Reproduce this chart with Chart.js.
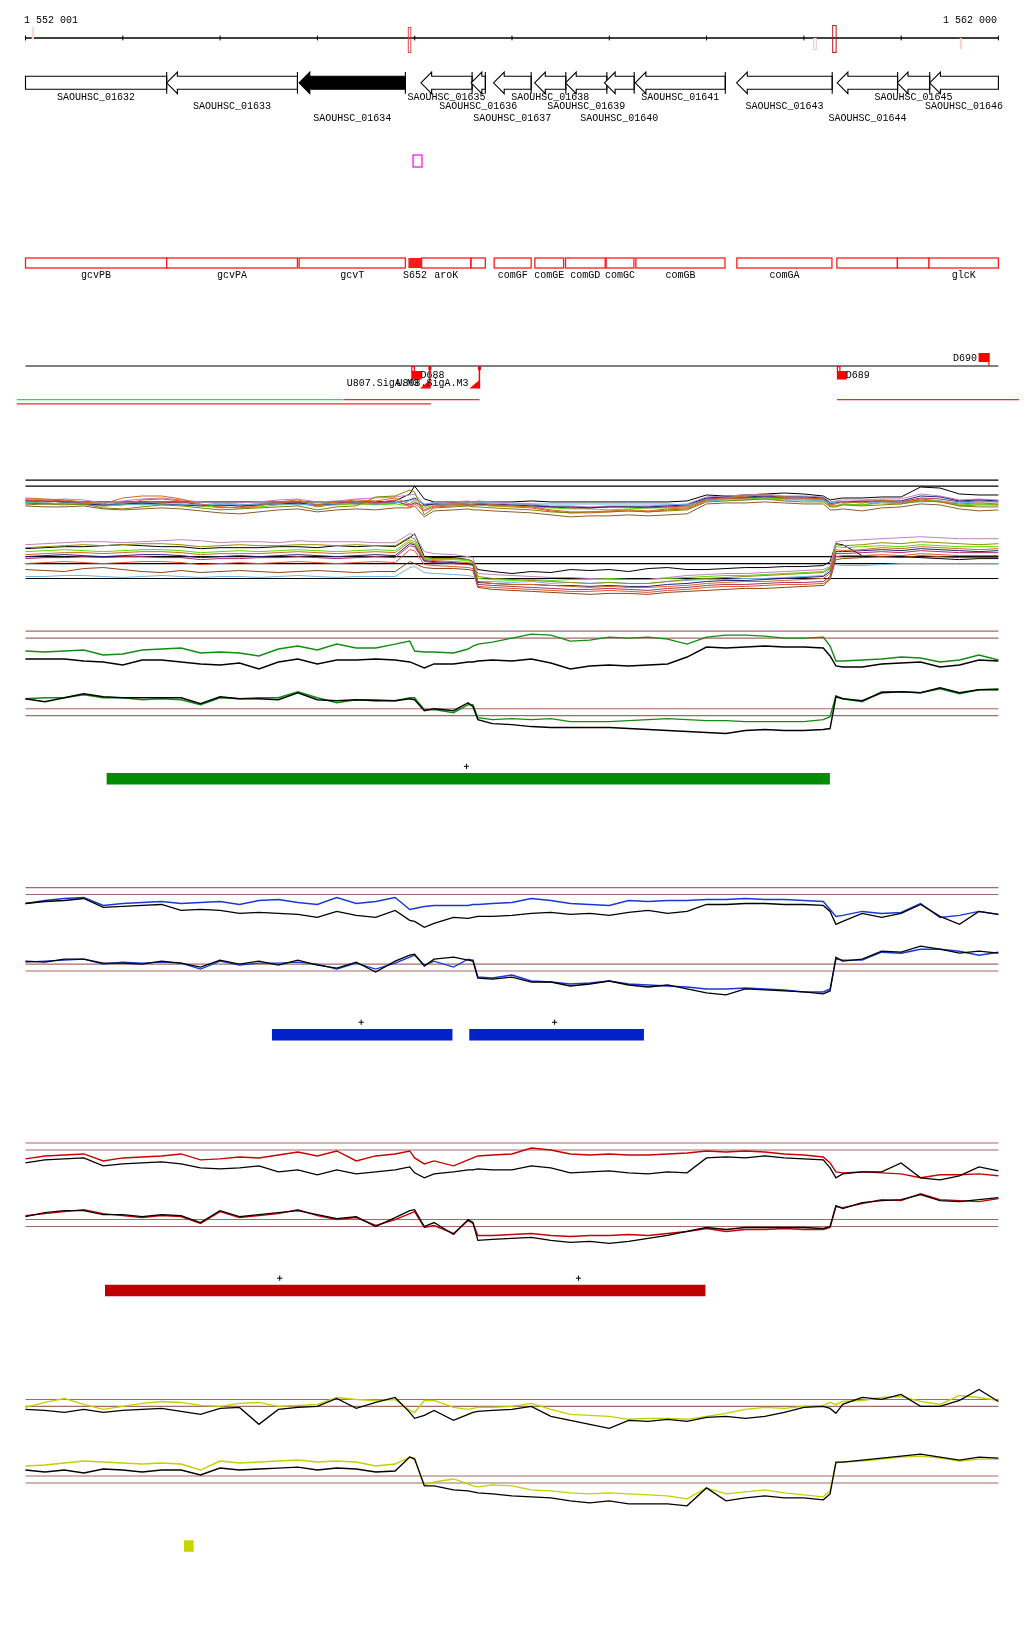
<!DOCTYPE html>
<html><head><meta charset="utf-8">
<script src="https://cdn.jsdelivr.net/npm/chart.js@4.4.1/dist/chart.umd.min.js"></script>
<style>
html,body{margin:0;padding:0;background:#fff;}
#c{display:block;}
</style></head>
<body><canvas id="c" width="1024" height="1640"></canvas>
<script>
// ---------------- DATA ----------------
const viewStart = 1552001, viewEnd = 1562000;
const rulerTicks = [1552001,1553001,1554001,1555001,1556001,1557001,1558001,1559001,1560001,1561001,1562000];
const rulerText = ['1 552 001','1 562 000'];
const markStart = [1552065,1555930,1560096,1560292,1561603];
const markEnd   = [1552088,1555956,1560123,1560327,1561623];
const markKind  = ['a','b','c','d','e'];

const geneNames  = ['SAOUHSC_01632','SAOUHSC_01633','SAOUHSC_01634','SAOUHSC_01635','SAOUHSC_01636','SAOUHSC_01637','SAOUHSC_01638','SAOUHSC_01639','SAOUHSC_01640','SAOUHSC_01641','SAOUHSC_01643','SAOUHSC_01644','SAOUHSC_01645','SAOUHSC_01646'];
const geneStart  = [1551600,1553452,1554813,1556065,1556581,1556811,1557233,1557551,1557951,1558267,1559309,1560343,1560961,1561294];
const geneEnd    = [1553452,1554796,1555905,1556591,1556727,1557198,1557554,1557976,1558257,1559193,1560292,1560964,1561294,1562300];
const geneStrand = ['-','-','-','-','-','-','-','-','-','-','-','-','-','-'];
const geneFocus  = ['SAOUHSC_01634'];

const magStart = [1555984], magEnd = [1556076];

const featNames = ['gcvPB','gcvPA','gcvT','S652','aroK','','comGF','comGE','comGD','comGC','comGB','comGA','','','glcK'];
const featStart = [1551600,1553452,1554813,1555936,1556072,1556581,1556818,1557236,1557551,1557969,1558274,1559312,1560340,1560962,1561287];
const featEnd   = [1553452,1554796,1555905,1556072,1556577,1556727,1557198,1557531,1557959,1558254,1559190,1560289,1560962,1561287,1562300];
const featKind  = ['box','box','box','site','box','box','box','box','box','box','box','box','box','box','box'];

const flagNames = ['D688','D689','D690'];
const flagStart = [1555966,1560340,1561796];
const flagEnd   = [1556072,1560442,1561908];
const flagSide  = ['below','below','above'];
const siteNames = ['U807.SigA.M3','U808.SigA.M3'];
const sitePos   = [1556157,1556666];
const readStart = [1551912,1555271,1551912,1560340];
const readEnd   = [1555271,1556666,1556167,1562213];
const readRow   = [0,0,1,0];
const readKind  = ['g','r','r','r'];

const positions = [1552000,1552200,1552400,1552600,1552800,1553000,1553200,1553400,1553600,1553800,1554000,1554200,1554400,1554600,1554800,1555000,1555200,1555400,1555600,1555800,1555950,1556000,1556100,1556200,1556400,1556550,1556600,1556650,1556800,1557000,1557200,1557400,1557600,1557800,1558000,1558200,1558400,1558600,1558800,1559000,1559200,1559400,1559600,1559800,1560000,1560200,1560270,1560330,1560400,1560600,1560800,1561000,1561200,1561400,1561600,1561800,1562000];

// multi-sample bundle, upper panel
const bT1 = [0.2,0.1,0,0,0,0,0,0,0,0,0,0,0,0,0,0,0,0,0,0.1,0.8,1.6,0.3,0,0,0,0,0,0,0,0.1,0,0,0,0,0,0,0,0.1,0.7,0.6,0.7,0.8,0.9,0.8,0.6,0.2,0.3,0.4,0.4,0.5,0.5,1.5,1.4,0.8,0.7,0.7];
const bT2 = [0.4,0.3,0.2,0,-0.2,0.4,0.6,0.6,0.3,-0.2,-0.5,-0.6,-0.4,0,0.2,-0.3,0,0.2,0.1,0.4,-0.2,0.2,-0.8,-0.4,-0.3,-0.2,-0.3,-0.1,-0.3,-0.4,-0.5,-0.8,-1.0,-1.0,-0.9,-0.8,-0.9,-0.7,-0.6,0.2,0.4,0.6,0.7,0.5,0.4,0.3,-0.3,-0.2,0,-0.1,0.2,0,0.2,0,-0.2,-0.1,-0.2];
const bT3 = [-0.3,-0.2,-0.3,-0.2,-0.6,-0.7,-0.5,-0.3,-0.4,-0.6,-0.8,-0.7,-0.6,-0.5,-0.4,-0.8,-0.5,-0.4,0.5,0.6,1.2,1.0,-1.3,-0.6,-0.5,-0.4,-0.5,-0.5,-0.6,-0.7,-0.8,-1.0,-1.1,-1.0,-1.0,-0.9,-1.0,-0.9,-0.8,0,0.1,0.2,0.3,0.1,0,0,-0.5,-0.5,-0.3,-0.4,-0.3,-0.2,0.1,0,-0.4,-0.5,-0.5];
const bT4 = [-0.1,-0.1,-0.2,-0.1,-0.2,-0.2,-0.3,-0.2,-0.2,-0.3,-0.2,-0.3,-0.2,-0.2,-0.3,-0.2,-0.2,-0.1,-0.2,-0.1,0.1,0.3,-0.2,-0.1,-0.2,-0.2,-0.2,-0.1,-0.1,-0.2,-0.2,-0.2,-0.2,-0.2,-0.2,-0.2,-0.2,-0.2,-0.3,0.1,0.2,0.2,0.3,0.2,0.2,0.1,-0.1,0,0,-0.1,0,0,0,0.1,-0.1,0,0];
const bT5 = [0.1,0,0.1,-0.1,-0.3,-0.1,-0.2,-0.1,0,-0.3,-0.4,-0.3,-0.2,-0.1,-0.2,-0.3,0,-0.2,-0.1,0,-0.3,-0.1,-0.4,-0.2,-0.1,-0.2,-0.3,-0.2,-0.2,-0.3,-0.3,-0.5,-0.6,-0.6,-0.5,-0.5,-0.6,-0.5,-0.4,0.3,0.4,0.4,0.5,0.4,0.4,0.3,-0.2,0,0,0.1,0.1,0,0.4,0.3,0,0.1,0];
const bT6 = [0,-0.1,-0.2,-0.3,-0.4,-0.3,-0.2,-0.3,-0.2,-0.4,-0.5,-0.6,-0.5,-0.3,-0.2,-0.4,-0.3,-0.2,-0.3,-0.2,-0.4,0,-0.6,-0.3,-0.3,-0.4,-0.3,-0.3,-0.4,-0.4,-0.5,-0.6,-0.7,-0.7,-0.8,-0.7,-0.6,-0.6,-0.5,0.2,0.3,0.3,0.4,0.3,0.2,0.2,-0.3,-0.4,-0.2,-0.3,-0.1,-0.2,0.2,0.1,-0.3,-0.2,-0.3];
const bT7 = [-0.4,-0.5,-0.5,-0.4,-0.7,-0.8,-0.7,-0.6,-0.7,-0.9,-1.1,-1.2,-1.0,-0.8,-0.7,-1.0,-0.8,-0.7,-0.8,-0.6,-0.6,-0.4,-1.5,-0.9,-0.8,-0.7,-0.8,-0.8,-0.9,-1.0,-1.1,-1.3,-1.5,-1.4,-1.4,-1.3,-1.4,-1.3,-1.2,-0.2,-0.1,-0.1,0,-0.1,-0.2,-0.2,-0.8,-0.8,-0.7,-0.9,-0.6,-0.5,-0.2,-0.3,-0.7,-0.9,-0.8];
const bT8 = [0.3,0.2,0.3,0.2,-0.1,0.1,0.3,0.4,0.2,0,-0.2,-0.1,0,0.2,0.3,0,0.1,0.3,0.4,0.5,0.7,0.8,-0.3,0,0,0.1,0,0.1,0,-0.1,-0.2,-0.4,-0.4,-0.5,-0.4,-0.4,-0.4,-0.3,-0.2,0.5,0.6,0.7,0.8,0.6,0.6,0.5,0,0.1,0.2,0.2,0.3,0.3,0.8,0.6,0.2,0.3,0.2];
const bT9 = [-0.1,-0.2,-0.1,-0.2,-0.3,-0.2,-0.1,-0.2,-0.3,-0.4,-0.3,-0.4,-0.3,-0.2,-0.1,-0.3,-0.2,-0.1,-0.2,-0.1,0.2,0.4,-0.3,-0.2,-0.2,-0.3,-0.2,-0.2,-0.3,-0.3,-0.4,-0.5,-0.5,-0.6,-0.5,-0.5,-0.5,-0.4,-0.3,0.4,0.5,0.5,0.6,0.5,0.5,0.4,-0.1,-0.1,0,0,0.1,0.1,0.6,0.5,0.1,0.2,0.1];
const bT10 = [0.1,0.2,0.1,0.0,-0.4,-0.3,0.2,0.3,0.1,-0.3,-0.6,-0.5,-0.3,-0.1,0.0,-0.5,-0.2,0.0,-0.1,0.2,-0.5,-0.2,-0.9,-0.5,-0.4,-0.3,-0.4,-0.3,-0.4,-0.5,-0.6,-0.9,-1.1,-1.1,-1.0,-0.9,-1.0,-0.8,-0.7,0.1,0.3,0.4,0.5,0.3,0.3,0.2,-0.4,-0.4,-0.2,-0.3,0.0,-0.1,0.3,0.1,-0.4,-0.3,-0.3];
// multi-sample bundle, lower panel
const bB1 = [1.7,1.8,1.9,2.0,2.0,1.9,2.0,2.1,2.2,2.1,1.9,2.0,2.0,1.9,2.1,2.0,2.0,2.0,1.9,1.9,2.8,2.7,1.0,0.8,0.7,0.5,0.4,-1.2,-1.3,-1.4,-1.5,-1.6,-1.6,-1.7,-1.8,-1.8,-1.8,-1.6,-1.4,-1.3,-1.2,-1.2,-1.1,-1.0,-0.9,-0.8,-0.5,2.0,2.1,2.2,2.3,2.4,2.5,2.4,2.3,2.3,2.3];
const bB2 = [1.3,1.4,1.5,1.5,1.6,1.7,1.6,1.5,1.5,1.3,1.4,1.4,1.4,1.5,1.5,1.4,1.6,1.5,1.6,1.5,2.4,2.8,0.5,0.4,0.4,0.2,0,-0.8,-1.0,-1.2,-1.0,-1.1,-0.8,-0.9,-0.8,-1.0,-0.7,-0.6,-0.8,-0.8,-0.7,-0.6,-0.6,-0.5,-0.5,-0.4,0,1.8,1.7,0.6,0.5,0.5,0.4,0.3,0.2,0.3,0.3];
const bB3 = [1.4,1.5,1.6,1.7,1.6,1.7,1.8,1.8,1.7,1.5,1.6,1.7,1.6,1.6,1.7,1.7,1.6,1.7,1.6,1.6,2.5,2.3,0.4,0.3,0.3,0.2,0,-1.5,-1.7,-1.8,-1.9,-2.0,-2.1,-2.2,-2.1,-2.2,-2.2,-2.0,-1.8,-1.7,-1.6,-1.5,-1.4,-1.3,-1.2,-1.1,-0.7,1.7,1.6,1.7,1.9,1.8,2.0,1.9,1.8,1.7,1.8];
const bB4 = [0.7,0.8,0.9,0.9,0.8,0.9,1.0,1.0,0.9,0.7,0.8,0.8,0.8,0.9,1.0,0.9,0.8,0.9,1.0,0.9,2.0,1.8,0.2,0.1,0,-0.1,-0.2,-2.0,-2.2,-2.3,-2.3,-2.4,-2.5,-2.6,-2.5,-2.6,-2.6,-2.5,-2.4,-2.2,-2.1,-2.0,-2.0,-1.9,-1.8,-1.7,-1.2,1.2,1.1,1.2,1.4,1.3,1.5,1.4,1.3,1.2,1.3];
const bB5 = [0.3,0.4,0.4,0.5,0.4,0.5,0.5,0.4,0.4,0.2,0.3,0.3,0.4,0.4,0.5,0.4,0.3,0.4,0.5,0.4,1.6,1.5,0,-0.1,-0.2,-0.3,-0.4,-2.3,-2.4,-2.5,-2.6,-2.7,-2.8,-2.8,-2.7,-2.8,-2.9,-2.7,-2.6,-2.4,-2.3,-2.3,-2.2,-2.1,-2.1,-2.0,-1.5,0.8,0.8,0.9,1.0,0.9,1.1,1.0,0.9,0.9,0.9];
const bB6 = [1.0,1.1,1.2,1.1,1.0,1.1,1.2,1.2,1.1,0.9,1.0,1.1,1.0,1.1,1.2,1.1,1.0,1.1,1.2,1.1,2.2,2.0,0.3,0.2,0.2,0.1,-0.1,-1.7,-1.8,-1.9,-1.8,-1.9,-1.8,-1.8,-1.7,-1.8,-1.8,-1.7,-1.6,-1.5,-1.4,-1.4,-1.3,-1.2,-1.1,-1.0,-0.6,1.5,1.4,1.5,1.6,1.5,1.7,1.6,1.5,1.5,1.5];
const bB7 = [-1.5,-1.5,-1.4,-1.4,-1.5,-1.6,-1.5,-1.4,-1.5,-1.6,-1.5,-1.5,-1.6,-1.5,-1.4,-1.5,-1.6,-1.5,-1.5,-1.5,-0.6,-0.5,-1.1,-1.2,-1.3,-1.4,-1.5,-2.0,-2.0,-2.1,-2.0,-2.2,-2.1,-2.2,-2.1,-2.2,-2.2,-2.0,-1.9,-1.8,-1.8,-1.7,-1.7,-1.6,-1.5,-1.4,-0.8,-0.3,-0.4,-0.4,-0.3,-0.2,-0.2,-0.2,-0.2,-0.2,-0.2];
const bB8 = [-0.8,-0.9,-1.0,-0.7,-0.6,-0.8,-1.0,-1.1,-0.9,-1.1,-1.0,-0.9,-1.0,-1.1,-1.0,-0.9,-1.0,-1.1,-1.0,-1.0,0,-0.2,-0.6,-0.7,-0.7,-0.8,-0.9,-2.6,-2.8,-2.9,-3.0,-3.1,-3.2,-3.3,-3.2,-3.2,-3.3,-3.1,-3.0,-2.9,-2.8,-2.7,-2.7,-2.6,-2.5,-2.4,-1.8,0.2,0.3,0.4,0.5,0.4,0.6,0.5,0.4,0.4,0.4];
const bB9 = [0.5,0.6,0.7,0.6,0.5,0.6,0.7,0.7,0.6,0.4,0.5,0.6,0.5,0.6,0.7,0.6,0.5,0.6,0.7,0.6,1.8,1.7,0.1,0.0,-0.1,-0.2,-0.3,-2.1,-2.2,-2.3,-2.3,-2.4,-2.4,-2.5,-2.4,-2.5,-2.5,-2.3,-2.2,-2.0,-1.9,-1.9,-1.8,-1.7,-1.6,-1.5,-1.0,1.0,1.0,1.1,1.2,1.1,1.3,1.2,1.1,1.0,1.1];
const bB10 = [-0.2,-0.1,0.0,-0.1,-0.2,-0.1,0.0,0.0,-0.1,-0.3,-0.2,-0.1,-0.2,-0.1,0.0,-0.1,-0.2,-0.1,0.0,-0.1,1.2,1.1,-0.3,-0.4,-0.5,-0.6,-0.7,-2.5,-2.6,-2.7,-2.8,-2.9,-3.0,-3.0,-2.9,-3.0,-3.1,-2.9,-2.8,-2.6,-2.5,-2.5,-2.4,-2.3,-2.3,-2.2,-1.7,0.5,0.6,0.6,0.7,0.6,0.8,0.7,0.6,0.6,0.6];
const thrBundleTop = [2.2,1.6];
const thrBundleBot = [0.5,-0.2,-1.7];

// green condition
const greenTopC = [1.0,0.9,1.0,1.1,0.6,0.7,1.1,1.2,1.3,0.8,0.9,0.8,0.5,1.2,1.5,1.1,1.7,1.3,1.3,1.7,2.0,1.0,0.9,0.9,0.8,1.2,1.5,1.7,1.9,2.3,2.7,2.6,2.0,2.1,2.4,2.3,2.4,2.2,1.7,2.4,2.6,2.6,2.5,2.3,2.3,2.4,1.5,0.0,0.0,0.1,0.2,0.4,0.3,-0.1,0.1,0.6,0.1];
const greenTopK = [0.2,0.2,0.2,0.0,-0.1,-0.4,0.1,0.1,-0.1,-0.3,-0.4,-0.2,-0.8,-0.1,0.2,-0.3,0.1,0.1,0.2,0.1,-0.1,-0.3,-0.7,-0.3,-0.3,-0.1,-0.1,0.0,0.1,0.0,0.2,-0.2,-0.8,-0.5,-0.4,-0.5,-0.4,-0.3,0.4,1.4,1.3,1.4,1.5,1.4,1.4,1.3,0.5,-0.5,-0.6,-0.6,-0.3,-0.2,-0.1,-0.6,-0.4,0.1,0.0];
const greenBotC = [0.2,0.3,0.3,0.6,0.3,0.3,0.1,0.2,0.1,-0.4,0.3,0.2,0.3,0.3,0.9,0.3,-0.2,0.1,0.1,0.0,0.3,0.3,-0.9,-0.9,-1.2,-0.4,-0.4,-1.7,-1.9,-1.8,-1.9,-1.8,-2.1,-2.1,-2.1,-2.0,-1.9,-1.8,-1.9,-2.0,-2.0,-2.1,-2.1,-2.1,-2.1,-1.9,-1.6,0.5,0.2,-0.1,0.9,0.9,0.8,1.2,0.7,1.1,1.2];
const greenBotK = [0.2,-0.1,0.3,0.7,0.4,0.3,0.3,0.3,0.3,-0.3,0.4,0.2,0.2,0.1,0.8,0.1,0.0,0.1,0.0,0.0,0.2,0.1,-1.0,-0.8,-1.0,-0.2,-0.6,-1.9,-2.3,-2.4,-2.6,-2.7,-2.7,-2.7,-2.7,-2.8,-2.9,-3.0,-3.1,-3.2,-3.3,-3.0,-2.9,-3.0,-3.0,-2.9,-2.8,0.4,0.2,0.0,0.8,0.9,0.8,1.3,0.8,1.1,1.1];
const thrGreenTop = [3.0,2.3], thrGreenBot = [-0.8,-1.5];
const greenSegStart = [1552835], greenSegEnd = [1560268], greenPlus = [1556533];

// blue condition
const blueTopC = [-0.4,-0.1,0.1,0.2,-0.6,-0.4,-0.3,-0.2,-0.4,-0.3,-0.2,-0.5,-0.1,0.0,-0.3,-0.5,0.2,-0.4,-0.2,0.2,-1.0,-0.9,-0.7,-0.6,-0.6,-0.6,-0.5,-0.5,-0.4,-0.3,0.1,-0.1,-0.4,-0.5,-0.6,-0.1,-0.2,-0.1,-0.1,0.0,0.0,0.1,0.0,0.0,-0.1,-0.2,-1.0,-1.7,-1.6,-1.2,-1.4,-1.3,-0.4,-1.8,-1.6,-1.2,-1.5];
const blueTopK = [-0.4,-0.2,-0.1,0.1,-0.8,-0.7,-0.6,-0.5,-1.1,-1.0,-1.1,-1.4,-1.3,-1.4,-1.5,-1.8,-1.2,-1.6,-1.8,-1.1,-2.1,-2.2,-2.8,-2.4,-1.8,-1.9,-1.8,-1.7,-1.7,-1.6,-1.4,-1.3,-1.5,-1.4,-1.6,-1.3,-1.1,-1.4,-1.2,-0.5,-0.5,-0.4,-0.4,-0.5,-0.5,-0.6,-1.2,-2.5,-2.2,-1.4,-1.8,-1.4,-0.5,-1.7,-2.5,-1.2,-1.5];
const blueBotC = [-0.3,-0.2,-0.1,0.0,-0.5,-0.3,-0.4,-0.3,-0.4,-1.0,-0.2,-0.6,-0.4,-0.4,-0.3,-0.5,-1.0,-0.4,-1.0,-0.4,0.2,0.4,-0.6,-0.2,-0.8,0.0,-0.1,-1.8,-1.9,-1.6,-2.2,-2.3,-2.5,-2.4,-2.2,-2.5,-2.6,-2.7,-2.8,-3.0,-3.0,-2.9,-3.0,-3.1,-3.3,-3.3,-3.0,0.0,-0.1,-0.1,0.7,0.6,1.0,1.0,0.8,0.4,0.7];
const blueBotK = [-0.2,-0.3,0.0,0.0,-0.4,-0.4,-0.5,-0.2,-0.4,-0.8,-0.1,-0.5,-0.2,-0.6,-0.1,-0.6,-0.9,-0.3,-1.3,-0.2,0.4,0.5,-0.7,0.0,0.2,-0.1,-0.2,-1.9,-2.0,-1.8,-2.3,-2.3,-2.7,-2.5,-2.2,-2.6,-2.8,-2.6,-3.0,-3.4,-3.6,-3.0,-3.1,-3.2,-3.3,-3.5,-3.2,0.2,-0.2,0.0,0.8,0.7,1.3,1.0,0.6,0.8,0.6];
const thrBlueTop = [1.2,0.5], thrBlueBot = [-0.5,-1.2];
const blueSegStart = [1554534,1556562], blueSegEnd = [1556389,1558357], bluePlus = [1555451,1557439];

// red condition
const redTopC = [-0.1,0.2,0.3,0.4,-0.3,0.0,0.1,0.2,0.4,-0.2,-0.1,0.1,0.0,0.3,0.6,0.2,0.7,-0.3,0.2,0.4,0.7,0.0,-0.6,-0.3,-0.8,-0.2,0.0,0.2,0.3,0.4,1.0,0.8,0.4,0.3,0.4,0.3,0.3,0.4,0.5,0.7,0.6,0.7,0.6,0.4,0.3,0.1,-0.5,-1.4,-1.5,-1.4,-1.5,-1.6,-2.0,-1.7,-1.7,-1.6,-1.8];
const redTopK = [-0.5,-0.2,-0.1,0.0,-0.8,-0.6,-0.5,-0.4,-0.6,-1.0,-1.1,-1.0,-0.8,-1.4,-1.2,-1.7,-1.2,-1.6,-1.4,-1.2,-0.9,-1.5,-2.0,-1.6,-1.4,-1.2,-1.2,-1.1,-1.2,-1.2,-0.8,-1.0,-1.5,-1.4,-1.3,-1.5,-1.6,-1.4,-1.5,0.0,0.1,0.0,0.2,0.0,-0.1,-0.2,-1.0,-2.0,-1.6,-1.4,-1.4,-0.5,-2.0,-2.2,-1.8,-0.9,-1.3];
const redBotC = [0.2,0.4,0.6,0.8,0.4,0.2,0.0,0.2,0.1,-0.6,0.6,0.0,0.2,0.4,0.8,0.2,-0.2,0.0,-0.8,-0.2,0.4,0.6,-1.0,-0.8,-1.6,-0.3,-0.6,-1.8,-1.8,-1.7,-1.6,-1.8,-1.9,-1.8,-1.8,-1.7,-1.8,-1.6,-1.4,-1.1,-1.4,-1.2,-1.2,-1.1,-1.2,-1.2,-1.0,1.1,1.0,1.4,1.8,1.7,2.4,1.8,1.7,1.6,1.9];
const redBotK = [0.1,0.5,0.7,0.7,0.3,0.3,0.1,0.3,0.2,-0.5,0.7,0.1,0.3,0.5,0.7,0.3,-0.1,0.1,-0.9,0.0,0.7,0.8,-0.9,-0.5,-1.7,-0.2,-0.5,-2.3,-2.2,-2.1,-2.0,-2.3,-2.5,-2.4,-2.6,-2.4,-2.1,-1.8,-1.4,-1.0,-1.2,-1.0,-1.0,-1.0,-1.0,-1.1,-0.9,1.2,0.9,1.5,1.7,1.8,2.3,1.7,1.6,1.8,2.0];
const thrRedTop = [1.5,0.8], thrRedBot = [-0.2,-0.9];
const redSegStart = [1552818,1556410], redSegEnd = [1556410,1558989], redPlus = [1554614,1557684];

// yellow condition
const yelTopC = [-0.1,0.4,0.8,0.2,-0.3,0.0,0.3,0.5,0.4,0.1,0.0,0.3,0.4,0.0,0.1,0.2,0.9,0.7,0.6,0.7,-0.4,-0.6,0.6,0.6,-0.1,-0.3,-0.2,-0.1,-0.1,0.0,0.3,-0.3,-0.8,-0.9,-1.0,-1.3,-1.2,-1.2,-1.3,-1.0,-0.7,-0.3,-0.1,-0.2,0.0,0.1,0.4,0.2,0.5,0.6,0.9,1.0,0.5,0.2,1.1,0.9,0.6];
const yelTopK = [-0.3,-0.4,-0.6,-0.3,-0.6,-0.4,-0.3,-0.2,-0.5,-0.8,-0.2,-0.1,-1.8,-0.3,-0.1,0.0,0.8,-0.2,0.4,0.9,-0.6,-1.2,-0.9,-0.4,-1.4,-0.8,-0.6,-0.5,-0.4,-0.3,0.0,-1.0,-1.4,-1.8,-2.2,-1.4,-1.5,-1.3,-1.5,-1.1,-1.0,-1.2,-1.0,-0.6,-0.1,0.0,-0.2,-0.7,0.2,0.9,0.7,1.2,0.0,0.0,0.6,1.7,0.5];
const yelBotC = [1.0,1.1,1.3,1.5,1.4,1.3,1.2,1.3,1.2,0.6,1.5,1.3,1.4,1.5,1.6,1.4,1.5,1.4,1.0,1.2,1.9,1.8,-0.9,-0.6,-0.3,-0.8,-1.0,-1.1,-0.9,-1.0,-1.4,-1.5,-1.7,-1.8,-1.7,-1.8,-1.9,-2.0,-2.3,-1.2,-1.8,-1.6,-1.4,-1.7,-1.9,-2.1,-1.5,1.3,1.4,1.5,1.7,1.9,2.0,1.8,1.5,1.7,1.7];
const yelBotK = [0.6,0.4,0.6,0.3,0.7,0.6,0.4,0.6,0.6,0.1,0.8,0.6,0.7,0.8,0.9,0.6,0.8,0.7,0.4,0.5,1.9,1.7,-1.0,-1.0,-1.4,-1.5,-1.6,-1.7,-1.8,-2.0,-2.1,-2.2,-2.5,-2.7,-2.5,-2.8,-2.8,-2.8,-3.0,-1.2,-2.5,-2.2,-2.0,-2.2,-2.2,-2.4,-1.8,1.4,1.4,1.6,1.8,2.0,2.2,1.9,1.6,1.9,1.8];
const thrYelTop = [0.7,0.0], thrYelBot = [0.0,-0.7];
const yelSegStart = [1553629], yelSegEnd = [1553729], yelPlus = [];

// ---------------- LAYOUT / STYLE ----------------
const W = 1024, H = 1640;
const PX_L = 20.7, PX_R = 1003.2;            // pixel span of the view
const bpPerPx = (viewEnd - viewStart) / (PX_R - PX_L);
const xMin = viewStart - PX_L * bpPerPx, xMax = xMin + W * bpPerPx;
const UNIT = 10;                               // px per data unit in signal panels
const FONT = '10px "Liberation Mono", "DejaVu Sans Mono", monospace';
const C = {rosy:'#a36a68', green:'#128c12', blue:'#1738d6', red:'#c80000', yel:'#c4d000',
  gBar:'#008c00', bBar:'#0022c8', rBar:'#bf0000', yBar:'#c8d400', feat:'#ff1a1a', flag:'#ff0000',
  readG:'#3fd23f', readR:'#ee2a2a', mag:'#ff00ff'};
const MARK_STYLE = {a:{y:[27,39],fill:'#f7d8ca'}, b:{y:[27,52],stroke:'#d84a4a'}, c:{y:[38,49],stroke:'#f3c3b3'},
  d:{y:[25,52],stroke:'#b01818'}, e:{y:[38,49],fill:'#f6d2c2'}};
const L = {rulerY:38, tick:2.4, rulerLabelY:20.5,
  bodyTop:76.3, bodyBot:89.3, headTop:72, headBot:93.7, headLen:10.7, geneLabelY:[97.5,106.5,118],
  magY:[155,167], boxTop:258, boxBot:268, boxLabelY:275.5,
  dLineY:366, flagBelow:[371,379.5], flagAbove:[353,362], siteBot:388.5, triW:10, triH:8.5};
const ZERO = {pBT:500, pBB:560, pGT:660, pGB:700, pGS:778.5, pUT:900, pUB:960, pUS:1036, pRT:1160, pRB:1220, pRS:1293.5,
  pYT:1410, pYB:1480, pYS:1550.5, pRD:397};
const READ_STEP = 4.3, BAR_W = 11.5, PLUS_RISE = 12.5;

function yAx(zero, unit){ unit = unit || UNIT; return {axis:'y', position:'left', display:false, min:(zero - H)/unit, max:zero/unit}; }

// ---------------- DATASETS ----------------
const ds = [];
function series(vals, color, axis, w, order){
  ds.push({data: vals.map((v,i)=>({x:positions[i], y:v})), borderColor:color, borderWidth:w||1, pointRadius:0,
    tension:0, yAxisID:axis, order: order===undefined?2:order, fill:false});
}
function hlines(vals, color, axis, w){
  vals.forEach(v => ds.push({data:[{x:viewStart,y:v},{x:viewEnd,y:v}], borderColor:color, borderWidth:w||1.1,
    pointRadius:0, yAxisID:axis, order:9, fill:false}));
}
function segs(starts, ends, plus, color, axis){
  // one path per track: touching segments join seamlessly, gaps are broken with null
  const pts = [];
  starts.forEach((s,i)=>{
    if (i>0 && s > ends[i-1]) pts.push({x:(s+ends[i-1])/2, y:null});
    if (!(i>0 && s === ends[i-1])) pts.push({x:s, y:0});
    pts.push({x:ends[i], y:0});
  });
  ds.push({data:pts, borderColor:color, borderWidth:BAR_W, borderCapStyle:'butt', borderJoinStyle:'miter',
    pointRadius:0, yAxisID:axis, order:3, fill:false, spanGaps:false});
  if (plus.length) ds.push({data: plus.map(p=>({x:p, y:PLUS_RISE/UNIT})), showLine:false, pointStyle:'cross',
    pointRadius:2.6, borderColor:'#000', borderWidth:1, yAxisID:axis, order:1});
}

// bundles
hlines(thrBundleTop, '#000', 'pBT', 1.2);
hlines(thrBundleBot, '#000', 'pBB', 1.2);
const bundleTop = [bT2,bT3,bT4,bT9,bT5,bT6,bT10,bT7,bT8,bT1];
const bundleTopCol = ['#d2691e','#808000','#5fb0e8','#22227a','#b03060','#55dd00','#e8502a','#8b5a2b','#c080c0','#000000'];
bundleTop.forEach((a,i)=>series(a, bundleTopCol[i], 'pBT', 1, 2));
const bundleBot = [bB1,bB3,bB4,bB9,bB5,bB6,bB10,bB7,bB8,bB2];
const bundleBotCol = ['#c080c0','#909000','#d2691e','#22227a','#b03060','#55dd00','#e8502a','#6cb4e8','#8b4513','#000000'];
bundleBot.forEach((a,i)=>series(a, bundleBotCol[i], 'pBB', 1, 2));

// condition tracks
hlines(thrGreenTop, C.rosy, 'pGT'); hlines(thrGreenBot, C.rosy, 'pGB');
series(greenTopK,'#000','pGT',1.4); series(greenTopC,C.green,'pGT',1.4);
series(greenBotK,'#000','pGB',1.4); series(greenBotC,C.green,'pGB',1.4);
segs(greenSegStart, greenSegEnd, greenPlus, C.gBar, 'pGS');

hlines(thrBlueTop, C.rosy, 'pUT'); hlines(thrBlueBot, C.rosy, 'pUB');
series(blueTopK,'#000','pUT',1.3); series(blueTopC,C.blue,'pUT',1.4);
series(blueBotK,'#000','pUB',1.3); series(blueBotC,C.blue,'pUB',1.4);
segs(blueSegStart, blueSegEnd, bluePlus, C.bBar, 'pUS');

hlines(thrRedTop, C.rosy, 'pRT'); hlines(thrRedBot, C.rosy, 'pRB');
series(redTopK,'#000','pRT',1.3); series(redTopC,C.red,'pRT',1.4);
series(redBotK,'#000','pRB',1.3); series(redBotC,C.red,'pRB',1.4);
segs(redSegStart, redSegEnd, redPlus, C.rBar, 'pRS');

hlines(thrYelTop, C.rosy, 'pYT'); hlines(thrYelBot, C.rosy, 'pYB');
series(yelTopK,'#000','pYT',1.3); series(yelTopC,C.yel,'pYT',1.4);
series(yelBotK,'#000','pYB',1.3); series(yelBotC,C.yel,'pYB',1.4);
segs(yelSegStart, yelSegEnd, yelPlus, C.yBar, 'pYS');

// reads under the site track
readStart.forEach((s,i)=> ds.push({data:[{x:s,y:-readRow[i]},{x:readEnd[i],y:-readRow[i]}],
  borderColor: readKind[i]==='g'?C.readG:C.readR, borderWidth:1.2, pointRadius:0, yAxisID:'pRD', order:4, fill:false}));

const yScales = {};
Object.keys(ZERO).forEach(k => yScales[k] = yAx(ZERO[k], k==='pRD'?READ_STEP:UNIT));

// ---------------- ANNOTATION TRACKS (drawn through the x scale) ----------------
const tracksPlugin = {
  id:'tracks',
  afterDatasetsDraw(chart){
    const ctx = chart.ctx, xs = chart.scales.x;
    const X = v => xs.getPixelForValue(v);
    const clampS = v => Math.max(v, viewStart), clampE = v => Math.min(v, viewEnd);
    ctx.save();
    ctx.font = FONT; ctx.textBaseline = 'middle'; ctx.fillStyle = '#000'; ctx.strokeStyle = '#000';
    const line = (x1,y1,x2,y2)=>{ctx.beginPath();ctx.moveTo(x1,y1);ctx.lineTo(x2,y2);ctx.stroke();};

    // ruler
    ctx.lineWidth = 1.3;
    line(X(viewStart), L.rulerY, X(viewEnd), L.rulerY);
    ctx.lineWidth = 1;
    rulerTicks.forEach(t => line(X(t), L.rulerY-L.tick, X(t), L.rulerY+L.tick));
    ctx.textAlign = 'left'; ctx.fillText(rulerText[0], X(viewStart)-1.5, L.rulerLabelY);
    ctx.textAlign = 'right'; ctx.fillText(rulerText[1], X(viewEnd)-1.5, L.rulerLabelY);
    markStart.forEach((s,i)=>{
      const st = MARK_STYLE[markKind[i]], x1 = X(s), x2 = X(markEnd[i]);
      if (st.fill){ ctx.fillStyle = st.fill; ctx.fillRect(x1, st.y[0], Math.max(2,x2-x1), st.y[1]-st.y[0]); }
      if (st.stroke){ ctx.strokeStyle = st.stroke; ctx.lineWidth = 1; ctx.strokeRect(x1+0.5, st.y[0]+0.5, Math.max(2,x2-x1), st.y[1]-st.y[0]); }
    });

    // genes
    ctx.strokeStyle = '#000'; ctx.lineWidth = 1.1;
    geneStart.forEach((s,i)=>{
      const e = geneEnd[i], a = X(clampS(s)), b = X(clampE(e));
      const focus = geneFocus.includes(geneNames[i]);
      const mid = (L.headTop + L.headBot)/2;
      ctx.beginPath();
      if (geneStrand[i]==='-' && s >= viewStart){
        const base = a + Math.min(L.headLen, b-a);
        ctx.moveTo(a, mid); ctx.lineTo(base, L.headTop); ctx.lineTo(base, L.bodyTop); ctx.lineTo(b, L.bodyTop);
        ctx.lineTo(b, L.bodyBot); ctx.lineTo(base, L.bodyBot); ctx.lineTo(base, L.headBot); ctx.closePath();
      } else if (geneStrand[i]==='+' && e <= viewEnd){
        const base = b - Math.min(L.headLen, b-a);
        ctx.moveTo(b, mid); ctx.lineTo(base, L.headTop); ctx.lineTo(base, L.bodyTop); ctx.lineTo(a, L.bodyTop);
        ctx.lineTo(a, L.bodyBot); ctx.lineTo(base, L.bodyBot); ctx.lineTo(base, L.headBot); ctx.closePath();
      } else {
        ctx.rect(a, L.bodyTop, b-a, L.bodyBot-L.bodyTop);
      }
      ctx.fillStyle = focus ? '#000' : '#fff'; ctx.fill(); ctx.stroke();
      if (geneStrand[i]==='-' && e <= viewEnd) line(b, L.headTop, b, L.headBot);
      if (geneStrand[i]==='+' && s >= viewStart) line(a, L.headTop, a, L.headBot);
    });
    ctx.fillStyle = '#000'; ctx.textAlign = 'center';
    geneStart.forEach((s,i)=>{
      const a = X(clampS(s)), b = X(clampE(geneEnd[i]));
      ctx.fillText(geneNames[i], (a+b)/2, L.geneLabelY[i % 3]);
    });

    // promoter-like magenta box
    ctx.strokeStyle = C.mag; ctx.lineWidth = 1.2;
    magStart.forEach((s,i)=> ctx.strokeRect(X(s), L.magY[0], X(magEnd[i])-X(s), L.magY[1]-L.magY[0]));

    // feature boxes
    featStart.forEach((s,i)=>{
      const a = X(clampS(s)), b = X(clampE(featEnd[i]));
      if (featKind[i]==='site'){ ctx.fillStyle = C.feat; ctx.fillRect(a, L.boxTop, b-a, L.boxBot-L.boxTop); }
      else { ctx.fillStyle = '#fff'; ctx.fillRect(a, L.boxTop, b-a, L.boxBot-L.boxTop);
        ctx.strokeStyle = C.feat; ctx.lineWidth = 1.3; ctx.strokeRect(a, L.boxTop, b-a, L.boxBot-L.boxTop); }
    });
    ctx.fillStyle = '#000'; ctx.textAlign = 'center';
    featStart.forEach((s,i)=>{
      if (!featNames[i]) return;
      const a = X(clampS(s)), b = X(clampE(featEnd[i]));
      ctx.fillText(featNames[i], (a+b)/2, L.boxLabelY);
    });

    // site / flag track
    ctx.strokeStyle = '#000'; ctx.lineWidth = 1.2;
    line(X(viewStart), L.dLineY, X(viewEnd), L.dLineY);
    flagStart.forEach((s,i)=>{
      const a = X(s), b = X(flagEnd[i]);
      ctx.fillStyle = C.flag; ctx.strokeStyle = C.flag; ctx.lineWidth = 1.2;
      if (flagSide[i]==='below'){
        ctx.strokeRect(a+0.5, L.dLineY+0.6, 2.5, L.flagBelow[0]-L.dLineY);
        ctx.fillRect(a, L.flagBelow[0], b-a, L.flagBelow[1]-L.flagBelow[0]);
        ctx.fillStyle = '#000'; ctx.textAlign = 'left';
        ctx.fillText(flagNames[i], b-1, (L.flagBelow[0]+L.flagBelow[1])/2+0.5);
      } else {
        ctx.fillRect(a, L.flagAbove[0], b-a, L.flagAbove[1]-L.flagAbove[0]);
        line(b-0.5, L.flagAbove[0], b-0.5, L.dLineY);
        ctx.fillStyle = '#000'; ctx.textAlign = 'right';
        ctx.fillText(flagNames[i], a-1.5, (L.flagAbove[0]+L.flagAbove[1])/2+0.5);
      }
    });
    sitePos.forEach((p,i)=>{
      const x = X(p);
      ctx.strokeStyle = C.flag; ctx.fillStyle = C.flag; ctx.lineWidth = 1.5;
      line(x, L.dLineY, x, L.siteBot);
      ctx.fillRect(x-1.5, L.dLineY, 3, 4);
      ctx.beginPath(); ctx.moveTo(x-L.triW, L.siteBot); ctx.lineTo(x, L.siteBot); ctx.lineTo(x, L.siteBot-L.triH); ctx.closePath(); ctx.fill();
      ctx.fillStyle = '#000'; ctx.textAlign = 'right';
      ctx.fillText(siteNames[i], x - L.triW - 1, L.siteBot - 5.5);
    });
    ctx.restore();
  }
};

Chart.defaults.font.family = '"Liberation Mono", "DejaVu Sans Mono", monospace';
new Chart(document.getElementById('c'), {
  type:'line',
  data:{datasets: ds},
  options:{
    responsive:false, animation:false, devicePixelRatio:1, events:[],
    layout:{padding:0},
    plugins:{legend:{display:false}, tooltip:{enabled:false}},
    scales: Object.assign({x:{axis:'x', position:'bottom', type:'linear', min:xMin, max:xMax, display:false}}, yScales)
  },
  plugins:[tracksPlugin]
});
</script>
</body></html>
